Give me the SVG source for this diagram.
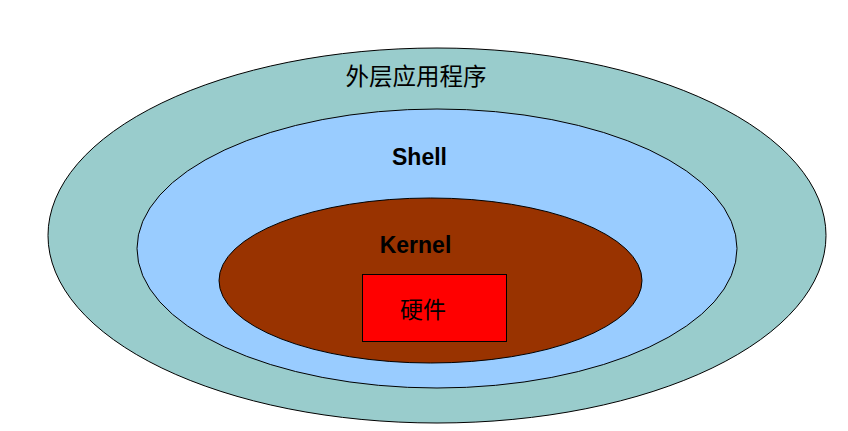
<svg xmlns="http://www.w3.org/2000/svg" width="848" height="431" viewBox="0 0 848 431">
<style>
.sh{stroke:#000;stroke-width:1}
.cjk{font-family:"Noto Sans CJK SC","Noto Sans",sans-serif;fill:#000}
.lbl{font-family:"Liberation Sans",Arial,sans-serif;font-weight:bold;font-size:23px;fill:#000}
</style>
<rect width="848" height="431" fill="#fff"/>
<g id="outer">
<ellipse class="sh" cx="437" cy="235.5" rx="389" ry="187.5" fill="#99CCCC"/>
<text class="cjk" x="416" y="85" font-size="23.5" text-anchor="middle">外层应用程序</text>
</g>
<g id="shell">
<ellipse class="sh" cx="437" cy="248.5" rx="300" ry="139.5" fill="#99CCFF"/>
<text class="lbl" x="419.5" y="165" text-anchor="middle">Shell</text>
</g>
<g id="kernel">
<ellipse class="sh" cx="430.5" cy="280.5" rx="211.5" ry="82.5" fill="#993300"/>
<text class="lbl" x="415.5" y="253" text-anchor="middle">Kernel</text>
</g>
<g id="hardware">
<rect class="sh" x="362.5" y="274.5" width="144" height="67" fill="#FF0000"/>
<text class="cjk" x="423" y="318" font-size="23" text-anchor="middle">硬件</text>
</g>
<g id="connectors"/>
</svg>
